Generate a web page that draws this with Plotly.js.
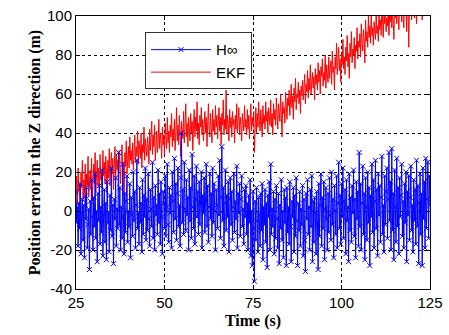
<!DOCTYPE html>
<html>
<head>
<meta charset="utf-8">
<script src="https://cdn.plot.ly/plotly-3.0.1.min.js"></script>
<style>html,body{margin:0;padding:0;background:#fff;}#chart{width:449px;height:335px;}</style>
</head>
<body>
<div id="chart"></div>
<script>
// time grid (s)
const tStart = 25;
const tStep = 0.2;

// H-infinity position error (m)
const hinfValues = [
  10, -6, 2, -18, 4, -9, 14, -22, -1, 6, -15, 3, -24, 8, -4, 12, -19, -7, 1, -30,
  5, -12, 16, -3, -20, 7, -8, 19, -14, 0, -26, 9, -5, 13, -17, 2, -11, 21, -23, -2,
  11, -16, 4, -25, 15, -6, -1, -21, 8, -10, 22, -13, 3, -27, 6, -4, 17, -18, 1, -9,
  30, -7, 12, -20, 2, -14, 24, -3, -22, 9, -11, 5, 18, -16, 0, -8, 14, -24, 7, -2,
  -13, 20, -5, 10, -19, 3, 26, -9, -1, -17, 12, -6, 4, -21, 16, -12, 8, -3, 22, -15,
  6, -10, 19, -4, -18, 11, 1, -8, 25, -14, 7, -20, 13, -2, 3, -12, 21, -6, 9, -17,
  15, -3, -22, 10, 4, -9, 18, -13, 2, 24, -7, -16, 12, -1, 8, -19, 20, 5, -11, 27,
  -4, 14, -15, 9, 22, -8, 3, -18, 17, 40, -6, 11, -12, 25, 1, -10, 16, -2, 7, -20,
  21, -5, 12, -14, 29, 2, -9, 18, -17, 6, 23, -3, 10, -12, 15, -7, 4, 20, -19, 8,
  -1, 17, -11, 5, 24, -8, 13, -16, 2, 19, -4, 9, -13, 22, -6, 14, 0, -20, 11, 3,
  -9, 18, -2, 26, -14, 7, 33, -5, 12, -18, 4, 21, -10, 8, -3, 15, -21, 6, 17, -7,
  10, -15, 2, 19, -11, 5, -4, 23, -19, 9, -1, 14, -13, 6, 18, -8, 1, -17, 11, -3,
  13, -12, 4, -20, 8, -6, 16, -23, 0, -28, 10, -9, -36, 5, -15, 12, -5, -21, 7, -2,
  -18, 9, -10, 14, -25, 2, -7, 11, -16, 4, -29, 8, -3, 15, -20, 24, -12, 1, -8, 10,
  -22, 6, -14, 13, -4, -19, 9, -27, 3, -9, 16, -15, 0, -24, 11, -6, 7, -28, 12, -11,
  2, -17, 15, -8, -26, 5, -3, 12, -21, 8, -13, 17, -5, -28, 4, -10, 10, -18, 1, -7,
  13, -23, 6, -15, -31, 9, -4, 16, -12, 2, -20, 11, -8, 18, -26, 5, -16, 7, -1, -22,
  10, -6, -30, 14, -13, 3, 19, -18, 7, -9, 15, -25, 1, 12, -4, -20, 9, -11, 17, -2,
  -15, 20, -7, 6, -24, 13, 0, -12, 18, -19, 4, 25, -9, 8, -17, 14, -3, 22, -14, 5,
  11, -22, 16, -5, 2, -26, 19, -10, 7, -16, 13, -1, 21, -13, 6, -24, 15, -4, 10, -18,
  30, -8, 14, -20, 4, 23, -12, 9, -25, 17, 2, -15, 20, -6, 12, -28, 8, -3, 24, -11,
  16, -19, 5, 26, -9, 11, -23, 19, -2, 13, -16, 7, 28, -12, 3, -21, 18, -7, 10, 22,
  -14, 6, 30, -5, 15, -20, 32, -10, 9, -25, 21, 2, -16, 27, -8, 12, -22, 17, -3, 8,
  24, -13, 5, -19, 14, -6, 20, -26, 10, -2, 18, -15, 7, 23, -10, 3, -21, 16, -5, 11,
  -17, 26, -8, 13, -27, 4, 19, -12, 9, -28, 22, -4, 15, -19, 27, -9, 6, 25, -14, 18,
  3
];

// EKF position error (m)
const ekfValues = [
  8, 18, 3, 22, 10, 14, 0, 20, 12, 26, 6, 16, 9, 24, 2, 19, 13, 28, 7, 15,
  21, 11, 27, 5, 17, 24, 14, 30, 10, 19, 26, 13, 22, 8, 29, 16, 20, 12, 31, 18,
  25, 14, 28, 20, 9, 26, 17, 32, 13, 23, 30, 19, 27, 11, 24, 33, 16, 29, 21, 26,
  18, 31, 22, 14, 28, 34, 20, 25, 5, 30, 23, 36, 19, 27, 33, 22, 38, 26, 31, 24,
  35, 21, 30, 39, 25, 33, 28, 41, 24, 36, 31, 27, 40, 22, 34, 30, 43, 26, 37, 32,
  28, 38, 34, 24, 42, 31, 36, 46, 29, 39, 33, 44, 26, 37, 41, 30, 35, 47, 32, 40,
  36, 27, 43, 34, 39, 29, 45, 37, 32, 48, 35, 41, 30, 44, 38, 50, 33, 42, 36, 47,
  31, 40, 53, 36, 44, 34, 49, 39, 28, 46, 41, 37, 51, 35, 43, 55, 38, 45, 33, 48,
  42, 36, 50, 40, 46, 31, 44, 52, 38, 48, 41, 56, 37, 45, 34, 49, 43, 53, 39, 47,
  36, 44, 51, 40, 48, 33, 46, 55, 42, 38, 50, 45, 35, 52, 41, 47, 39, 54, 43, 49,
  37, 46, 53, 41, 48, 34, 50, 44, 57, 39, 47, 42, 62, 40, 49, 45, 36, 52, 43, 48,
  38, 51, 44, 47, 35, 49, 42, 55, 40, 46, 53, 39, 48, 44, 36, 50, 45, 41, 54, 43,
  47, 39, 52, 42, 49, 37, 46, 55, 41, 48, 44, 51, 30, 45, 53, 40, 50, 43, 56, 46,
  41, 52, 47, 38, 54, 45, 49, 42, 56, 46, 51, 40, 53, 48, 44, 57, 43, 50, 39, 55,
  47, 52, 44, 58, 49, 42, 55, 51, 46, 60, 48, 38, 56, 50, 53, 45, 61, 52, 47, 58,
  54, 62, 49, 57, 65, 53, 59, 47, 63, 56, 68, 52, 60, 58, 66, 55, 62, 50, 64, 59,
  67, 57, 63, 70, 55, 65, 61, 72, 58, 68, 62, 75, 60, 66, 71, 63, 69, 57, 73, 65,
  70, 62, 76, 66, 72, 60, 74, 69, 78, 64, 71, 67, 80, 63, 75, 70, 66, 79, 68, 73,
  77, 65, 82, 71, 74, 62, 79, 73, 86, 70, 76, 84, 72, 78, 66, 81, 75, 88, 73, 79,
  70, 84, 77, 90, 74, 81, 68, 86, 79, 92, 76, 83, 80, 89, 73, 85, 82, 94, 78, 87,
  84, 91, 79, 96, 86, 82, 93, 88, 76, 98, 87, 92, 84, 100, 89, 95, 86, 101, 90, 94,
  85, 97, 92, 88, 103, 91, 95, 87, 104, 93, 98, 90, 106, 94, 89, 101, 96, 108, 92, 99,
  95, 104, 90, 100, 97, 110, 94, 102, 98, 88, 107, 99, 105, 96, 112, 100, 93, 106, 101, 109,
  97, 108, 102, 94, 111, 100, 105, 92, 110, 103, 84, 107, 101, 113, 98, 106, 104, 115, 99, 109,
  103, 96, 112, 105, 108, 100, 116, 104, 110, 98, 114, 106, 102, 118, 107, 111, 104, 117, 109, 113,
  101
];

const seriesNames = ["H\u221e", "EKF"];
const xTicks = [25, 50, 75, 100, 125];
const yTicks = [-40, -20, 0, 20, 40, 60, 80, 100];

const tHinf = hinfValues.map((_, i) => +(tStart + i * tStep).toFixed(2));
const tEkf = ekfValues.map((_, i) => +(tStart + i * tStep).toFixed(2));

const traces = [
  {
    x: tEkf, y: ekfValues, name: seriesNames[1], type: "scatter", mode: "lines",
    line: {color: "#ff0000", width: 1}
  },
  {
    x: tHinf, y: hinfValues, name: seriesNames[0], type: "scatter", mode: "lines+markers",
    line: {color: "#0000ff", width: 1},
    marker: {symbol: "x-thin-open", size: 5, color: "#0000ff", line: {color: "#0000ff", width: 1}}
  }
];

const tickFont = {family: "Liberation Sans, Arial, sans-serif", size: 15, color: "#000"};
const titleFont = {family: "Liberation Serif, Times New Roman, serif", size: 16, color: "#000", weight: "bold"};

const layout = {
  width: 449, height: 335,
  margin: {l: 76, r: 19, t: 16, b: 46},
  paper_bgcolor: "#fff", plot_bgcolor: "#fff",
  showlegend: true,
  legend: {
    x: 0.195, y: 0.94, xanchor: "left", yanchor: "top",
    traceorder: "reversed",
    bgcolor: "#fff", bordercolor: "#333", borderwidth: 1,
    font: {family: "Liberation Sans, Arial, sans-serif", size: 15, color: "#000"},
    itemwidth: 60, tracegroupgap: 4
  },
  xaxis: {
    range: [25, 125], tickvals: xTicks, ticktext: xTicks.map(String),
    showline: true, linecolor: "#000", linewidth: 1, mirror: "ticks",
    ticks: "inside", ticklen: 4, tickcolor: "#000",
    showgrid: true, gridcolor: "#000", gridwidth: 1, griddash: "dot",
    zeroline: false, tickfont: tickFont,
    title: {text: "Time (s)", font: titleFont, standoff: 4}
  },
  yaxis: {
    range: [-40, 100], tickvals: yTicks, ticktext: yTicks.map(String),
    showline: true, linecolor: "#000", linewidth: 1, mirror: "ticks",
    ticks: "inside", ticklen: 4, tickcolor: "#000",
    showgrid: true, gridcolor: "#000", gridwidth: 1, griddash: "dot",
    zeroline: false, tickfont: tickFont,
    title: {text: "Position error in the Z direction (m)", font: titleFont, standoff: 2}
  }
};

Plotly.newPlot("chart", traces, layout, {displayModeBar: false, staticPlot: true});
</script>
</body>
</html>
